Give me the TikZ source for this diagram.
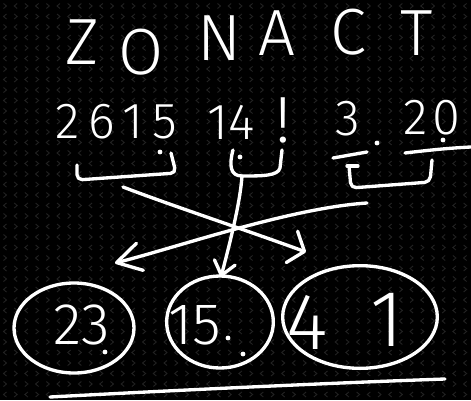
\documentclass[tikz,border=0pt]{standalone}
\usepackage{fontspec}
\setmainfont{Fira Sans}[UprightFont=* Light]
\usetikzlibrary{arrows.meta,shapes.geometric}

\definecolor{chev}{RGB}{34,34,34}

\tikzset{
  chalk/.style={draw=white, line width=2.5pt, line cap=round, line join=round},
  writing/.style={text=white, inner sep=0pt, anchor=center},
  bigletter/.style={writing, font=\fontsize{49}{50}\selectfont},
  digits/.style={writing, font=\fontsize{38}{40}\selectfont},
  ovaltext/.style={writing, font=\fontsize{44}{46}\selectfont},
  oval/.style={chalk, ellipse, inner sep=0pt},
  dot/.style={fill=white}
}

\begin{document}
\begin{tikzpicture}[x=0.75pt,y=0.75pt,yscale=-1,xscale=1]
\useasboundingbox (0,0) rectangle (471,400);

% Background board
\fill[black] (0,0) rectangle (471,400);
\foreach \i in {0,...,22}
  \foreach \j in {0,...,19} {
    \draw[chev, line width=0.7pt] (3.5+21.4*\i,3.5+21*\j) -- (6.5+21.4*\i,6+21*\j) -- (3.5+21.4*\i,8.5+21*\j);
    \draw[chev, line width=0.7pt] (14.2+21.4*\i,14+21*\j) -- (17.2+21.4*\i,16.5+21*\j) -- (14.2+21.4*\i,19+21*\j);
    \draw[chev, line width=0.7pt] (17.2+21.4*\i,3.5+21*\j) -- (14.2+21.4*\i,6+21*\j) -- (17.2+21.4*\i,8.5+21*\j);
    \draw[chev, line width=0.7pt] (6.5+21.4*\i,14+21*\j) -- (3.5+21.4*\i,16.5+21*\j) -- (6.5+21.4*\i,19+21*\j);
  }

% Title letters
\foreach \ch/\px/\py [count=\k] in {Z/82/42, O/141/52, N/219/38, A/277/33, C/348/32, T/417/33}
  \node[bigletter] (letter\k) at (\px,\py) {\ch};

% Number row
\node[digits] (numA) at (116,122) {\addfontfeatures{LetterSpace=18}2615};
\node[digits] (numB) at (231,122) {14};
\node[bigletter] (bang) at (283,120) {!};
\node[digits] (numC) at (348,119) {3};
\node[digits] (numD) at (432,118) {\addfontfeatures{LetterSpace=8}20};

% Dots
\fill[dot] (160,152) circle (1.8pt);
\fill[dot] (240,157) circle (1.8pt);
\fill[dot] (377,143) circle (1.8pt);
\fill[dot] (443,140) circle (1.8pt);

% Underscores under 3 and 20
\draw[chalk] (333,158) -- (367,152);
\draw[chalk] (405,153) .. controls (430,150) and (450,148) .. (471,147);

% Brackets
\draw[chalk, rounded corners=4pt] (77,165) -- (77,180) -- (176,173) -- (171,153);
\draw[chalk] (233,150) .. controls (229,165) and (230,176) .. (242,176) .. controls (262,176) and (278,176) .. (280,168) -- (282,150);
\draw[chalk] (347,166) -- (358,166);
\draw[chalk, rounded corners=4pt] (349,166) -- (351,188) -- (430,182) -- (432,160);

\coordinate (outA) at (123,187);
\coordinate (outB) at (242,176);
\coordinate (outC) at (367,203);

% Ovals
\node[oval, minimum width=90pt, minimum height=67.5pt] (ovalA) at (74,328) {};
\node[oval, minimum width=80pt, minimum height=69pt] (ovalB) at (220,322) {};
\node[oval, minimum width=116pt, minimum height=77pt] (ovalC) at (360,317) {};

\node[ovaltext] (txtA) at (82,325) {23};
\node[ovaltext] (txtB) at (195,325) {15};
\node[writing, font=\fontsize{60}{62}\selectfont] (txtC) at (307,322) {4};
\node[writing, font=\fontsize{60}{62}\selectfont] (txtD) at (387,320) {1};

\fill[dot] (105,352) circle (1.8pt);
\fill[dot] (228,338) circle (1.8pt);
\fill[dot] (243,354) circle (1.8pt);

\coordinate (inA) at (115,263);
\coordinate (inB) at (221,277);
\coordinate (inC) at (306,252);

% Crossing arrows
\draw[chalk, -{Straight Barb[length=10pt,width=25pt,round]}] (outA) .. controls (170,205) and (240,228) .. (inC);
\draw[chalk, -{Straight Barb[length=18pt,width=21pt,round]}] (outC) .. controls (290,208) and (175,248) .. (inA);
\draw[chalk, -{Straight Barb[length=10pt,width=16pt,round]}] (outB) .. controls (240,205) and (228,250) .. (inB);

% Base line
\draw[chalk] (50,397) .. controls (180,390) and (330,383) .. (445,379);
\end{tikzpicture}
\end{document}
